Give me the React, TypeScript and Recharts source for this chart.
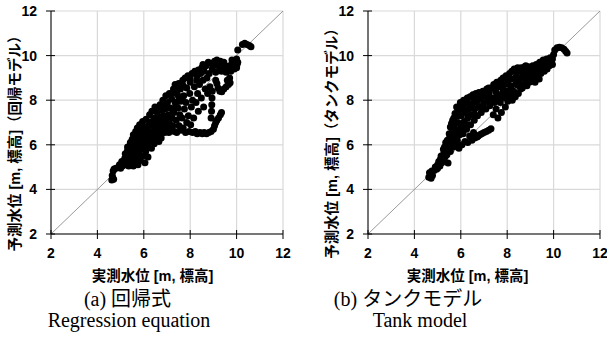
import { CartesianGrid, ReferenceLine, Scatter, ScatterChart, XAxis, YAxis } from "recharts"

const ticks = [2, 4, 6, 8, 10, 12]
const xTitle = "実測水位 [m, 標高]"
const yTitleA = "予測水位 [m, 標高]（回帰モデル）"
const yTitleB = "予測水位 [m, 標高]（タンクモデル）"
const captionA = ["(a) 回帰式", "Regression equation"]
const captionB = ["(b) タンクモデル", "Tank model"]

// [actual, predicted]
const regressionPoints: [number, number][] = [
  [4.62, 4.42], [4.66, 4.52], [4.7, 4.45], [4.64, 4.62], [4.68, 4.82], [4.72, 4.92], [4.8, 4.95],
  [4.9, 4.98], [4.95, 5.1], [5.0, 4.95], [5.05, 5.25], [5.08, 5.05],
  [5.15, 5.2], [5.18, 5.4], [5.2, 5.6], [5.25, 5.1], [5.28, 5.35], [5.3, 5.75], [5.3, 5.9],
  [5.35, 5.25], [5.38, 5.5], [5.4, 5.95], [5.42, 6.1], [5.45, 5.15], [5.48, 5.65], [5.5, 5.4], [5.5, 6.25],
  [5.55, 5.85], [5.55, 6.45], [5.6, 5.2], [5.6, 5.55], [5.62, 6.05], [5.65, 6.6], [5.68, 5.35], [5.7, 5.8], [5.7, 6.3], [5.72, 6.75],
  [5.75, 5.1], [5.78, 5.6], [5.8, 6.0], [5.8, 6.5], [5.82, 6.9], [5.85, 5.3], [5.88, 5.8], [5.9, 6.2], [5.9, 6.65],
  [5.95, 5.5], [5.95, 7.05], [6.0, 5.95], [6.0, 6.4], [6.02, 6.8], [6.05, 5.2], [6.08, 5.7], [6.1, 6.1], [6.1, 7.15], [6.12, 6.6],
  [6.18, 5.45], [6.2, 5.9], [6.2, 6.35], [6.22, 6.9], [6.25, 7.35], [6.28, 6.15], [6.3, 6.6], [6.33, 5.85], [6.35, 7.05], [6.35, 7.5],
  [6.4, 6.4], [6.42, 6.85], [6.45, 7.2], [6.48, 7.7], [6.5, 6.2], [6.52, 6.6], [6.55, 7.0], [6.58, 7.45], [6.6, 6.45],
  [6.65, 6.8], [6.68, 7.25], [6.7, 7.8], [6.72, 6.5], [6.75, 7.05], [6.78, 7.55], [6.8, 6.7], [6.82, 8.0], [6.85, 7.3], [6.85, 6.95],
  [6.9, 6.55], [6.92, 7.6], [6.95, 8.2], [6.98, 7.1], [7.0, 6.75], [7.02, 7.9], [7.05, 7.35], [7.08, 6.55], [7.1, 8.3], [7.1, 7.0],
  [7.15, 7.65], [7.18, 6.65], [7.2, 8.05], [7.22, 7.2], [7.25, 6.85], [7.28, 8.5], [7.3, 7.45], [7.32, 6.6], [7.35, 7.9], [7.35, 8.7],
  [7.4, 7.1], [7.42, 6.55], [7.45, 8.25], [7.48, 7.65], [7.5, 8.75], [7.52, 6.85], [7.55, 7.35], [7.58, 8.5], [7.6, 6.65], [7.6, 7.95],
  [7.65, 7.2], [7.68, 8.9], [7.7, 6.75], [7.72, 8.2], [7.75, 7.6], [7.78, 9.0], [7.8, 6.55], [7.82, 7.9], [7.85, 8.55], [7.85, 7.0],
  [7.9, 9.1], [7.92, 7.3], [7.95, 6.6], [7.98, 8.3], [8.0, 8.8], [8.02, 6.9], [8.05, 7.7], [8.08, 9.2], [8.1, 6.55], [8.1, 8.0],
  [8.15, 7.2], [8.18, 8.6], [8.2, 9.3], [8.22, 6.6], [8.25, 7.9], [8.28, 8.9], [8.3, 6.5], [8.32, 8.3], [8.35, 9.35], [8.35, 7.5],
  [8.4, 8.7], [8.42, 6.55], [8.45, 9.2], [8.48, 8.1], [8.5, 9.45], [8.52, 6.5], [8.55, 8.9], [8.58, 7.7], [8.6, 9.3], [8.6, 6.55],
  [8.65, 8.5], [8.68, 9.55], [8.7, 6.5], [8.72, 9.0], [8.75, 8.3], [8.78, 9.7], [8.8, 6.55], [8.82, 9.2], [8.85, 8.6],
  [8.9, 7.2], [8.92, 7.5], [8.93, 7.8], [8.94, 8.1], [8.95, 8.4], [8.9, 9.65], [8.95, 9.4], [8.9, 6.6], [9.0, 6.7],
  [9.05, 6.85], [9.1, 7.0], [9.15, 7.1], [9.22, 7.2], [9.3, 7.35], [9.35, 7.45], [9.05, 9.75], [9.15, 9.8], [9.2, 9.7],
  [9.1, 8.9], [9.15, 8.75], [9.2, 8.55], [9.28, 8.4], [9.36, 8.38], [9.45, 8.5], [9.55, 8.6], [9.65, 8.7], [9.72, 8.78],
  [9.25, 9.5], [9.35, 9.3], [9.4, 9.55], [9.5, 9.45], [9.55, 9.25], [9.6, 9.5], [9.1, 9.25],
  [9.7, 9.55], [9.75, 9.3], [9.8, 9.6], [9.85, 9.5], [9.9, 9.65], [9.95, 9.75], [9.97, 9.55], [10.0, 9.85], [10.02, 9.6],
  [10.05, 9.7], [9.9, 9.4], [9.7, 9.0], [9.6, 8.9],
  [10.05, 10.25], [10.25, 10.5], [10.35, 10.55], [10.45, 10.5], [10.55, 10.45], [10.62, 10.4],
  [5.25, 5.55], [5.35, 5.05], [5.45, 5.9], [5.55, 5.05], [5.65, 5.95], [5.75, 6.15], [5.85, 6.35], [5.95, 6.25],
  [6.05, 6.55], [6.15, 6.75], [6.25, 6.55], [6.35, 6.35], [6.45, 6.05], [6.55, 6.35], [6.65, 6.15], [6.75, 6.3],
  [6.95, 6.85], [7.05, 7.15], [7.25, 7.55], [7.4, 7.75], [7.5, 8.0], [7.65, 8.1], [6.6, 7.6], [6.9, 7.8],
  [7.2, 8.3], [7.4, 8.5], [7.7, 8.65], [8.0, 9.0], [8.3, 9.1], [8.55, 9.6], [9.0, 9.55], [9.3, 9.75],
  [9.45, 9.7], [9.8, 9.8], [10.0, 9.45], [10.0, 9.7],
]

// [actual, predicted]
const tankPoints: [number, number][] = [
  [4.62, 4.55], [4.65, 4.75], [4.72, 4.5], [4.78, 4.62], [4.75, 4.82], [4.85, 4.85], [4.9, 5.0], [4.95, 4.9],
  [5.0, 5.1], [5.05, 5.25], [5.1, 5.05], [5.12, 5.35], [5.18, 5.2], [5.2, 5.5], [5.25, 5.35], [5.28, 5.65],
  [5.3, 5.9], [5.32, 5.45], [5.35, 5.75], [5.38, 6.05], [5.4, 5.55], [5.42, 6.2], [5.45, 5.85], [5.45, 5.18],
  [5.5, 6.0], [5.52, 6.3], [5.55, 6.8], [5.55, 5.7], [5.6, 6.1], [5.62, 6.55], [5.65, 7.1], [5.68, 5.9],
  [5.7, 6.35], [5.72, 6.8], [5.75, 7.4], [5.78, 6.0], [5.8, 6.6], [5.82, 7.7], [5.85, 6.2], [5.88, 7.0],
  [5.9, 7.5], [5.92, 5.85], [5.95, 6.45], [5.98, 7.9],
  [6.0, 6.85], [6.02, 7.3], [6.05, 6.0], [6.08, 7.65], [6.1, 6.5], [6.12, 8.0], [6.15, 7.05], [6.18, 6.15],
  [6.2, 7.45], [6.22, 7.85], [6.25, 6.7], [6.28, 8.1], [6.3, 6.1], [6.3, 7.2],
  [6.35, 7.6], [6.38, 6.4], [6.4, 8.15], [6.42, 6.9], [6.45, 7.35], [6.48, 6.2], [6.5, 7.85], [6.52, 8.25],
  [6.55, 6.55], [6.58, 7.1], [6.6, 7.6], [6.6, 6.3],
  [6.65, 8.3], [6.68, 7.9], [6.7, 6.35], [6.72, 7.3], [6.75, 6.4], [6.78, 8.35], [6.8, 7.7], [6.82, 6.45],
  [6.85, 8.05], [6.88, 7.45], [6.9, 6.5],
  [6.95, 8.4], [6.98, 7.85], [7.0, 6.55], [7.05, 8.2], [7.08, 7.6], [7.1, 6.6], [7.12, 8.5], [7.15, 7.95],
  [7.2, 6.65], [7.22, 8.3], [7.25, 7.75], [7.3, 6.72],
  [7.3, 8.55], [7.35, 8.1], [7.4, 7.35], [7.42, 8.7], [7.45, 7.9], [7.5, 8.4], [7.52, 7.6], [7.55, 8.8],
  [7.6, 8.2], [7.6, 7.2],
  [7.65, 8.6], [7.7, 7.9], [7.72, 8.9], [7.75, 7.45], [7.8, 8.35], [7.82, 9.0], [7.85, 8.1], [7.9, 8.7],
  [7.92, 7.7], [7.95, 9.1],
  [8.0, 8.4], [8.03, 7.95], [8.05, 8.9], [8.1, 9.2], [8.12, 8.2], [8.15, 8.65], [8.2, 9.3], [8.22, 8.0],
  [8.25, 8.95], [8.28, 8.4], [8.3, 9.4],
  [8.35, 8.15], [8.37, 8.7], [8.4, 9.1], [8.45, 9.45], [8.48, 8.3], [8.5, 8.85], [8.55, 9.3], [8.58, 8.5],
  [8.6, 9.45], [8.62, 9.0], [8.65, 8.55],
  [8.7, 9.2], [8.72, 8.7], [8.75, 9.5], [8.8, 8.9], [8.82, 9.35], [8.85, 8.65], [8.9, 9.1], [8.92, 9.5],
  [8.95, 8.8], [9.0, 9.3],
  [9.05, 8.85], [9.1, 9.55], [9.12, 9.05], [9.18, 9.3], [9.2, 8.8], [9.25, 9.6], [9.3, 9.1], [9.35, 9.4],
  [9.38, 8.95], [9.4, 9.7],
  [9.45, 9.2], [9.5, 9.5], [9.55, 9.8], [9.6, 9.3], [9.65, 9.6], [9.7, 9.85], [9.72, 9.4], [9.78, 9.7],
  [9.82, 9.55], [9.85, 9.9], [9.9, 9.7], [9.95, 9.6], [9.95, 9.85],
  [10.0, 10.05], [10.05, 10.25], [10.15, 10.35], [10.25, 10.38], [10.35, 10.35], [10.45, 10.28], [10.52, 10.2],
  [10.58, 10.12],
  [5.0, 4.95], [5.15, 5.5], [5.25, 5.8], [5.35, 6.1], [5.5, 6.5], [5.6, 6.95], [5.7, 7.2], [5.85, 7.3],
  [6.0, 7.6], [6.1, 7.9], [6.25, 7.95], [6.4, 7.8], [6.55, 8.05], [6.7, 8.1], [6.95, 8.15], [7.2, 8.55],
  [7.45, 8.6], [7.7, 8.75], [8.0, 9.05], [8.4, 9.3], [8.8, 9.55], [9.2, 9.45], [9.6, 9.65], [9.3, 9.25],
  [8.9, 9.0], [8.5, 8.65], [8.15, 8.5], [7.85, 8.45], [7.55, 8.25], [7.25, 8.05], [6.95, 7.6], [6.6, 7.35],
  [6.3, 6.9], [6.1, 6.75], [5.9, 6.65], [7.6, 8.0], [7.9, 8.2],
]

const sansFont = "'Liberation Sans', 'Noto Sans CJK JP', sans-serif"
const serifFont = "'Liberation Serif', 'Noto Sans CJK JP', serif"

function YTick({ x, y, payload }: any) {
  return (
    <g>
      <line x1={x - 5} x2={x + 4} y1={y} y2={y} stroke="#000" />
      <text x={x - 14} y={y} textAnchor="end" dominantBaseline="central" fontSize={14} fontWeight={700} fontFamily={sansFont}>
        {payload.value}
      </text>
    </g>
  )
}

function XTick({ x, y, payload }: any) {
  return (
    <g>
      <line x1={x} x2={x} y1={y - 4} y2={y + 5} stroke="#000" />
      <text x={x} y={y + 19} textAnchor="middle" dominantBaseline="central" fontSize={14} fontWeight={700} fontFamily={sansFont}>
        {payload.value}
      </text>
    </g>
  )
}

function Dot({ cx, cy }: any) {
  return <circle cx={cx} cy={cy} r={3.5} fill="#000" />
}

function Panel({ points, yTitle, left, width, axisWidth, yTitleX, xTitleX }: any) {
  const data = points.map(([x, y]: [number, number]) => ({ x, y }))
  return (
    <div style={{ position: "absolute", left, top: 0 }}>
      <ScatterChart width={width} height={290} margin={{ top: 11, right: width - axisWidth - 232, bottom: 0, left: 0 }}>
        <CartesianGrid stroke="#d9d9d9" strokeWidth={1.2} />
        <XAxis
          type="number"
          dataKey="x"
          domain={[2, 12]}
          ticks={ticks}
          interval={0}
          height={56}
          tickSize={0}
          tickMargin={0}
          tickLine={false}
          axisLine={{ stroke: "#000" }}
          tick={XTick}
          label={() => (
            <text x={xTitleX} y={276} textAnchor="middle" dominantBaseline="central" fontSize={14.5} fontWeight={700} fontFamily={sansFont}>
              {xTitle}
            </text>
          )}
        />
        <YAxis
          type="number"
          dataKey="y"
          domain={[2, 12]}
          ticks={ticks}
          interval={0}
          width={axisWidth}
          tickSize={0}
          tickMargin={0}
          tickLine={false}
          axisLine={{ stroke: "#000" }}
          tick={YTick}
          label={() => (
            <text
              x={yTitleX}
              y={140}
              transform={`rotate(-90 ${yTitleX} 140)`}
              textAnchor="middle"
              dominantBaseline="central"
              fontSize={14.5}
              fontWeight={700}
              fontFamily={sansFont}
            >
              {yTitle}
            </text>
          )}
        />
        <ReferenceLine segment={[{ x: 2, y: 2 }, { x: 12, y: 12 }]} stroke="#808080" strokeWidth={0.8} />
        <Scatter data={data} shape={Dot} isAnimationActive={false} />
      </ScatterChart>
    </div>
  )
}

export default function App() {
  return (
    <div style={{ position: "absolute", left: 0, top: 0, width: 607, height: 356, background: "#fff", overflow: "hidden" }}>
      <Panel points={regressionPoints} yTitle={yTitleA} left={0} width={300} axisWidth={51} yTitleX={15} xTitleX={152.5} />
      <Panel points={tankPoints} yTitle={yTitleB} left={300} width={307} axisWidth={68} yTitleX={32} xTitleX={167.5} />
      <svg width={607} height={356} style={{ position: "absolute", left: 0, top: 0, pointerEvents: "none" }}>
        <text x={127.5} y={306} textAnchor="middle" fontSize={20} fontFamily={serifFont}>{captionA[0]}</text>
        <text x={129} y={327} textAnchor="middle" fontSize={20} fontFamily={serifFont}>{captionA[1]}</text>
        <text x={408} y={306} textAnchor="middle" fontSize={20} fontFamily={serifFont}>{captionB[0]}</text>
        <text x={420} y={327} textAnchor="middle" fontSize={20} fontFamily={serifFont}>{captionB[1]}</text>
      </svg>
    </div>
  )
}
